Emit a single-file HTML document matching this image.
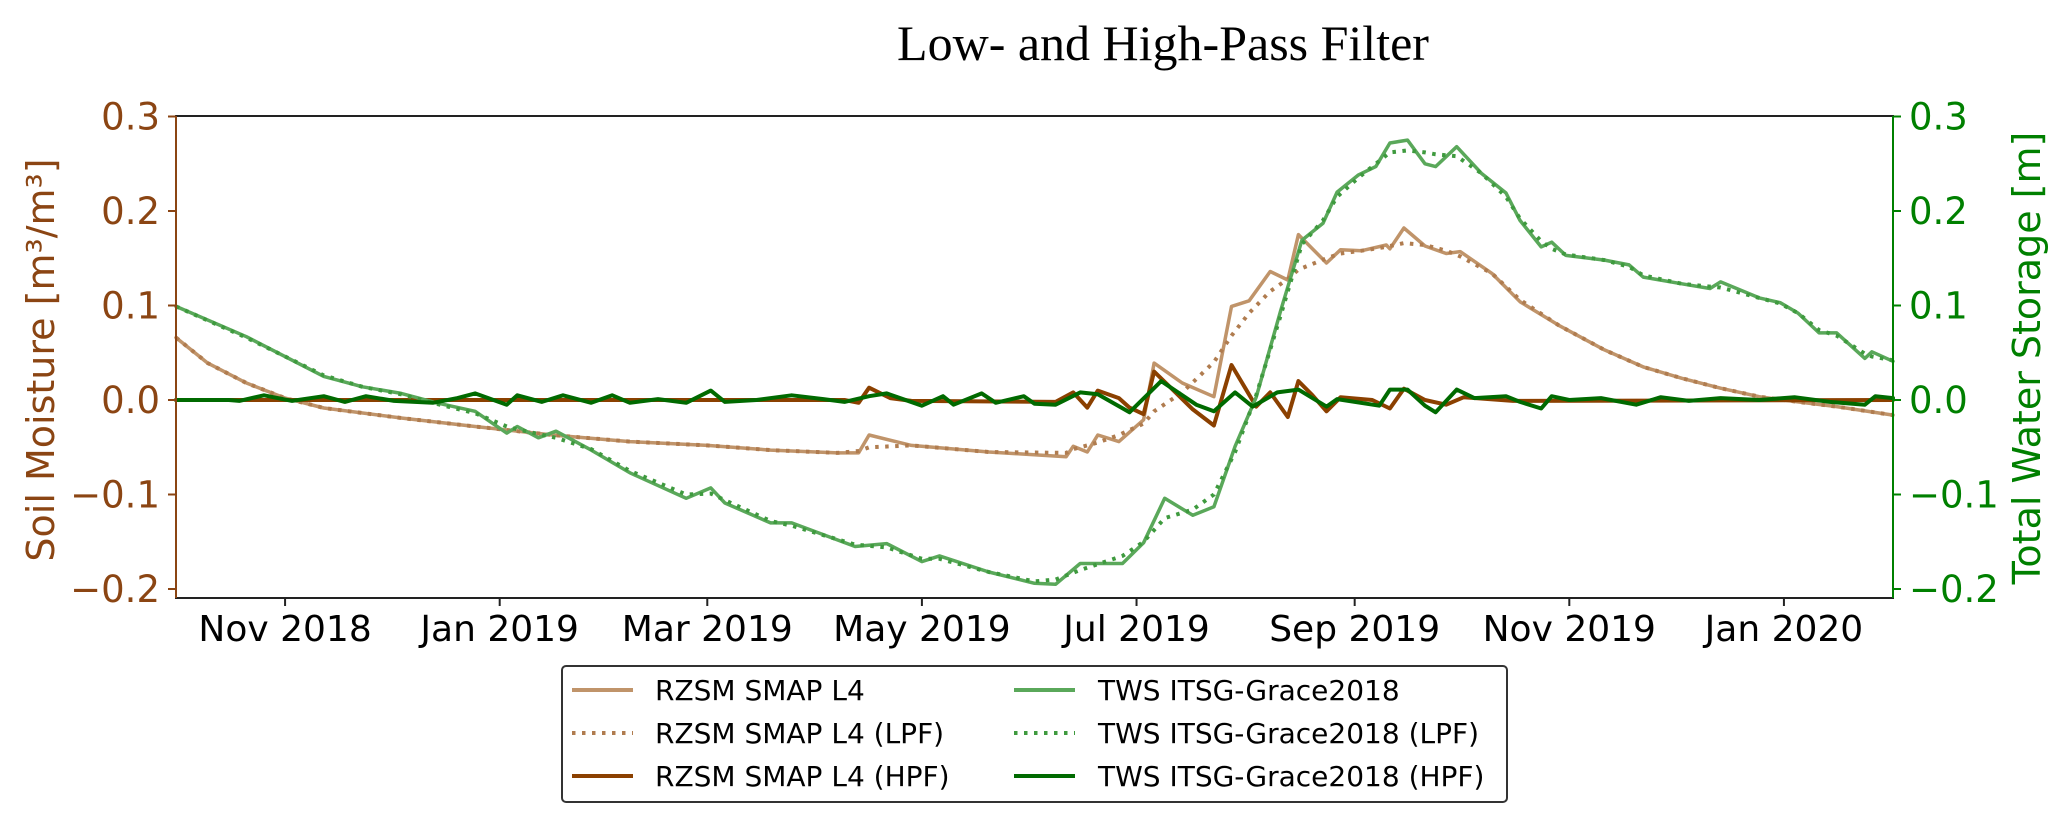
<!DOCTYPE html>
<html><head><meta charset="utf-8"><style>
html,body{margin:0;padding:0;background:#fff;}
svg{display:block;font-family:"DejaVu Sans","Liberation Sans",sans-serif;}
</style></head><body>
<svg id="chart" width="2067" height="822" viewBox="0 0 2067 822" xmlns="http://www.w3.org/2000/svg">
<text x="1163" y="60" text-anchor="middle" font-family="Liberation Serif, serif" font-size="50">Low- and High-Pass Filter</text>
<g id="plot"></g>
<g id="axes"></g>
<text transform="translate(54,360) rotate(-90)" text-anchor="middle" font-size="38" fill="#8b4513">Soil Moisture [m³/m³]</text>
<text transform="translate(2040,358) rotate(-90)" text-anchor="middle" font-size="38" fill="#008000">Total Water Storage [m]</text>
<g id="legend">
<rect x="562" y="666" width="945" height="136" rx="4" fill="#fff" stroke="#333" stroke-width="2"/>
<line x1="572" y1="690" x2="633" y2="690" stroke="#c0946a" stroke-width="4"/>
<text x="655" y="700" font-size="28">RZSM SMAP L4</text>
<line x1="572" y1="733" x2="633" y2="733" stroke="#b07c4f" stroke-width="4" stroke-dasharray="3.5 6.5"/>
<text x="655" y="743" font-size="28">RZSM SMAP L4 (LPF)</text>
<line x1="572" y1="776" x2="633" y2="776" stroke="#8b4000" stroke-width="4"/>
<text x="655" y="786" font-size="28">RZSM SMAP L4 (HPF)</text>
<line x1="1014" y1="690" x2="1075" y2="690" stroke="#5aa85a" stroke-width="4"/>
<text x="1098" y="700" font-size="28">TWS ITSG-Grace2018</text>
<line x1="1014" y1="733" x2="1075" y2="733" stroke="#3e9a3e" stroke-width="4" stroke-dasharray="3.5 6.5"/>
<text x="1098" y="743" font-size="28">TWS ITSG-Grace2018 (LPF)</text>
<line x1="1014" y1="776" x2="1075" y2="776" stroke="#006a00" stroke-width="4"/>
<text x="1098" y="786" font-size="28">TWS ITSG-Grace2018 (HPF)</text>
</g>
</svg>
<script>
// day offsets from 2018-10-01
const xTickLabels = ["Nov 2018","Jan 2019","Mar 2019","May 2019","Jul 2019","Sep 2019","Nov 2019","Jan 2020"];
const xTickDays = [31,92,151,212,273,335,396,457];
const yTickValues = [-0.2,-0.1,0.0,0.1,0.2,0.3];
const yTickLabels = ["\u22120.2","\u22120.1","0.0","0.1","0.2","0.3"];

const twsDays = [0,20,42,53,64,74,85,94,97,103,108,118,129,145,152,156,169,175,193,202,212,217,231,244,250,257,269,275,281,289,295,301,307,314,320,326,330,336,341,345,350,355,358,364,371,378,382,388,391,395,406,413,417,428,436,439,450,456,461,467,472,480,482,488];
const twsRaw = [0.099,0.067,0.025,0.014,0.007,-0.003,-0.012,-0.035,-0.028,-0.040,-0.033,-0.053,-0.077,-0.104,-0.093,-0.109,-0.130,-0.130,-0.155,-0.152,-0.171,-0.165,-0.182,-0.194,-0.195,-0.173,-0.173,-0.151,-0.104,-0.122,-0.113,-0.049,0.003,0.095,0.169,0.187,0.220,0.238,0.247,0.272,0.275,0.250,0.247,0.268,0.240,0.219,0.190,0.162,0.167,0.153,0.148,0.143,0.130,0.123,0.118,0.125,0.108,0.103,0.092,0.071,0.071,0.044,0.051,0.041];
const twsLpf = [0.099,0.066,0.026,0.014,0.006,-0.004,-0.014,-0.028,-0.031,-0.036,-0.040,-0.052,-0.075,-0.100,-0.099,-0.106,-0.128,-0.133,-0.153,-0.156,-0.168,-0.168,-0.182,-0.192,-0.190,-0.180,-0.165,-0.150,-0.125,-0.116,-0.100,-0.055,0.005,0.090,0.165,0.190,0.215,0.235,0.250,0.262,0.264,0.262,0.260,0.258,0.240,0.215,0.192,0.168,0.160,0.154,0.148,0.141,0.132,0.123,0.120,0.119,0.108,0.102,0.092,0.074,0.068,0.049,0.046,0.042];

const smDays = [0,9,20,31,42,64,85,107,129,151,169,188,194,197,209,231,253,255,259,262,268,275,278,286,295,300,305,311,316,319,327,331,337,344,345,349,355,361,365,374,382,393,406,417,428,439,450,461,472,488];
const smRaw = [0.066,0.039,0.018,0.002,-0.0085,-0.019,-0.028,-0.037,-0.044,-0.048,-0.053,-0.056,-0.056,-0.037,-0.048,-0.055,-0.060,-0.049,-0.055,-0.037,-0.044,-0.021,0.039,0.018,0.0035,0.099,0.105,0.136,0.127,0.175,0.145,0.159,0.158,0.164,0.160,0.182,0.163,0.155,0.157,0.134,0.104,0.079,0.053,0.035,0.023,0.0125,0.0035,-0.002,-0.007,-0.016];
const smLpf = [0.066,0.039,0.018,0.002,-0.0085,-0.019,-0.028,-0.037,-0.044,-0.048,-0.053,-0.056,-0.054,-0.050,-0.048,-0.055,-0.056,-0.052,-0.048,-0.045,-0.037,-0.025,-0.012,0.008,0.040,0.068,0.092,0.115,0.128,0.138,0.150,0.155,0.158,0.162,0.163,0.166,0.164,0.158,0.152,0.134,0.106,0.079,0.053,0.035,0.023,0.0125,0.0035,-0.002,-0.007,-0.016];

const smHpfDays = [0,190,194,197,203,209,250,255,259,262,268,271,275,278,283,289,295,300,304,307,311,316,319,323,327,331,340,345,349,355,361,366,380,488];
const smHpf = [0,0,-0.003,0.013,0.002,-0.001,-0.002,0.008,-0.008,0.010,0.002,-0.008,-0.015,0.030,0.012,-0.010,-0.027,0.037,0.012,-0.007,0.008,-0.018,0.020,0.005,-0.012,0.003,0.000,-0.009,0.012,0.000,-0.005,0.003,-0.001,0];

const twsHpfDays = [0,15,18,25,33,42,48,54,62,73,80,85,94,97,104,110,118,124,129,137,145,152,156,165,175,184,190,197,202,212,218,221,229,233,241,244,250,257,262,271,280,290,295,301,306,313,319,327,330,342,345,350,355,358,364,369,378,382,388,391,396,405,415,422,430,439,450,460,470,480,483,488];
const twsHpf = [0,0,-0.001,0.005,-0.001,0.004,-0.002,0.004,-0.001,-0.003,0.002,0.007,-0.005,0.005,-0.002,0.005,-0.003,0.005,-0.003,0.001,-0.003,0.010,-0.002,0.000,0.005,0.001,-0.002,0.004,0.007,-0.006,0.004,-0.005,0.007,-0.003,0.004,-0.004,-0.005,0.008,0.006,-0.013,0.020,-0.005,-0.012,0.008,-0.007,0.008,0.011,-0.007,0.001,-0.006,0.011,0.011,-0.006,-0.013,0.011,0.002,0.004,-0.002,-0.009,0.004,0.000,0.002,-0.005,0.003,-0.001,0.002,0.000,0.003,-0.002,-0.005,0.004,0.002];

const L=176,R=1893,T=116,B=598, DMAX=488;
const NS="http://www.w3.org/2000/svg";
function xs(d){return L+(R-L)*d/DMAX;}
function ys(v){return 400-v*945;}
const plot=document.getElementById('plot');
const axes=document.getElementById('axes');
function mk(tag,attrs,parent){const e=document.createElementNS(NS,tag);for(const k in attrs)e.setAttribute(k,attrs[k]);parent.appendChild(e);return e;}
function series(days,vals,stroke,w,dash,name){
  const pts=days.map((d,i)=>xs(d).toFixed(1)+','+ys(vals[i]).toFixed(1)).join(' ');
  const p=mk('polyline',{points:pts,fill:'none',stroke:stroke,'stroke-width':w,'stroke-linejoin':'round','stroke-linecap':dash?'butt':'round'},plot);
  if(dash)p.setAttribute('stroke-dasharray',dash);
  
  
}
series(smDays,smRaw,'#c0946a',3.5,null,'rzsm-line');
series(smDays,smLpf,'#b07c4f',4,'3.5 6.5','rzsm-lpf-line');
series(smHpfDays,smHpf,'#8b4000',4,null,'rzsm-hpf-line');
series(twsDays,twsRaw,'#5aa85a',3.5,null,'tws-line');
series(twsDays,twsLpf,'#3e9a3e',4,'3.5 6.5','tws-lpf-line');
series(twsHpfDays,twsHpf,'#006a00',4,null,'tws-hpf-line');

const fr=mk('rect',{x:L,y:T,width:R-L,height:B-T,fill:'none',stroke:'#222','stroke-width':2},axes);


const la=mk('line',{x1:L,y1:T,x2:L,y2:B,stroke:'#8b4513','stroke-width':2},axes);


const ra=mk('line',{x1:R,y1:T,x2:R,y2:B,stroke:'#008000','stroke-width':2},axes);


yTickValues.forEach((v,i)=>{
  const y=ys(v);
  const t1=mk('line',{x1:L-8,y1:y,x2:L,y2:y,stroke:'#8b4513','stroke-width':2},axes);
  
  
  const l1=mk('text',{x:L-16,y:y+13,'text-anchor':'end','font-size':37,fill:'#8b4513'},axes);
  l1.textContent=yTickLabels[i];
  
  
  const t2=mk('line',{x1:R,y1:y,x2:R+8,y2:y,stroke:'#008000','stroke-width':2},axes);
  
  
  const l2=mk('text',{x:R+16,y:y+13,'text-anchor':'start','font-size':37,fill:'#008000'},axes);
  l2.textContent=yTickLabels[i];
  
  
});
xTickDays.forEach((d,i)=>{
  const x=xs(d);
  const t=mk('line',{x1:x,y1:B,x2:x,y2:B+8,stroke:'#222','stroke-width':2},axes);
  
  
  const l=mk('text',{x:x,y:641,'text-anchor':'middle','font-size':36,fill:'#000'},axes);
  l.textContent=xTickLabels[i];
  
  
});
</script>
</body></html>
